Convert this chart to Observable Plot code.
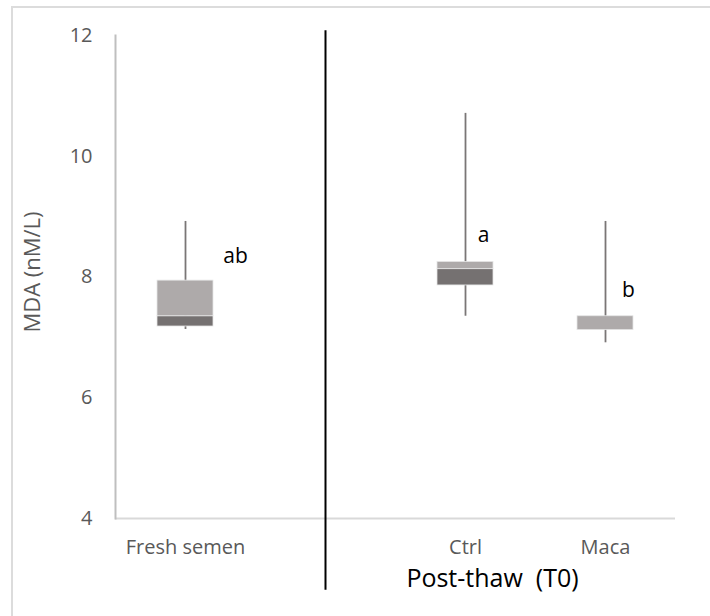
<!DOCTYPE html>
<html><head><meta charset="utf-8">
<script src="https://cdn.jsdelivr.net/npm/d3@7"></script>
<script src="https://cdn.jsdelivr.net/npm/@observablehq/plot@0.6"></script>
<style>
body{margin:0;background:#fff;}
#wrap{position:relative;width:710px;height:616px;overflow:hidden;font-family:"Open Sans",sans-serif;}
#border{position:absolute;left:11px;top:6px;right:-5px;bottom:-5px;border-top:2px solid #dcdcdc;border-left:2px solid #dcdcdc;pointer-events:none;}
#chart{position:absolute;left:0;top:0;}
</style></head><body><div id="wrap"><div id="chart"></div><div id="border"></div></div>
<script>
// categories on the x axis (the empty slot holds the divider line)
const slots = ["fresh", "gap", "ctrl", "maca"];
const slotNames = ["Fresh semen", "", "Ctrl", "Maca"];
// box-plot groups
const groups = ["fresh", "ctrl", "maca"];
const minV = [7.13, 7.35, 6.91];
const q1V = [7.18, 7.86, 7.12];
const medV = [7.35, 8.13, 7.12];
const q3V = [7.94, 8.25, 7.35];
const maxV = [8.92, 10.71, 8.92];
// significance letters and their heights
const letters = ["ab", "a", "b"];
const letterY = [8.34, 8.69, 7.78];
const yTicks = [4, 6, 8, 10, 12];
const divider = ["gap"];
const dividerSpan = [2.81, 12.08];
const xTitle = "Post-thaw  (T0)";
const yTitle = "MDA (nM/L)";

const data = groups.map((g, i) => ({g, min: minV[i], q1: q1V[i], med: medV[i], q3: q3V[i], max: maxV[i], letter: letters[i], ly: letterY[i]}));
const nameOf = new Map(slots.map((s, i) => [s, slotNames[i]]));
const font = "Open Sans, sans-serif";
const light = "#aeaaaa", dark = "#757171";

const chart = Plot.plot({
  width: 710, height: 616,
  marginLeft: 115, marginRight: 35, marginTop: 35, marginBottom: 98,
  style: {fontFamily: font, color: "#595959", background: "transparent", overflow: "visible"},
  x: {type: "band", domain: slots, paddingInner: 0.6, paddingOuter: 0.3},
  y: {domain: [4, 12]},
  marks: [
    Plot.ruleY([4], {stroke: "#d9d9d9", strokeWidth: 2}),
    Plot.frame({anchor: "left", stroke: "#bfbfbf", strokeWidth: 2}),
    Plot.axisY(yTicks, {tickSize: 0, tickPadding: 23, fontSize: 20, fill: "#595959", label: null, tickFormat: d3.format("d")}),
    Plot.axisX({tickSize: 0, tickPadding: 21, fontSize: 20, fill: "#595959", label: null, tickFormat: d => nameOf.get(d)}),
    Plot.ruleX(data, {x: "g", y1: "min", y2: "max", stroke: "#7a7676", strokeWidth: 1.8}),
    Plot.barY(data, {x: "g", y1: "q1", y2: "med", fill: dark, stroke: "#e6e6e6", strokeWidth: 0.8}),
    Plot.barY(data, {x: "g", y1: "med", y2: "q3", fill: light, stroke: "#e6e6e6", strokeWidth: 0.8}),
    Plot.ruleX(divider, {x: d => d, y1: dividerSpan[0], y2: dividerSpan[1], stroke: "#000", strokeWidth: 2}),
    Plot.text(data.filter(d => d.g === "fresh"), {x: "g", y: "ly", text: "letter", dx: 50, fontSize: 21, fill: "#000"}),
    Plot.text(data.filter(d => d.g === "ctrl"), {x: "g", y: "ly", text: "letter", dx: 18, fontSize: 21, fill: "#000"}),
    Plot.text(data.filter(d => d.g === "maca"), {x: "g", y: "ly", text: "letter", dx: 23, fontSize: 21, fill: "#000"}),
    Plot.text([xTitle], {x: () => "ctrl", frameAnchor: "bottom", dx: 27, dy: 68, fontSize: 25, fill: "#000"}),
    Plot.text([yTitle], {frameAnchor: "left", textAnchor: "middle", rotate: -90, dx: -83, dy: -5, fontSize: 22, fill: "#595959"})
  ]
});
document.getElementById("chart").appendChild(chart);
</script></body></html>
